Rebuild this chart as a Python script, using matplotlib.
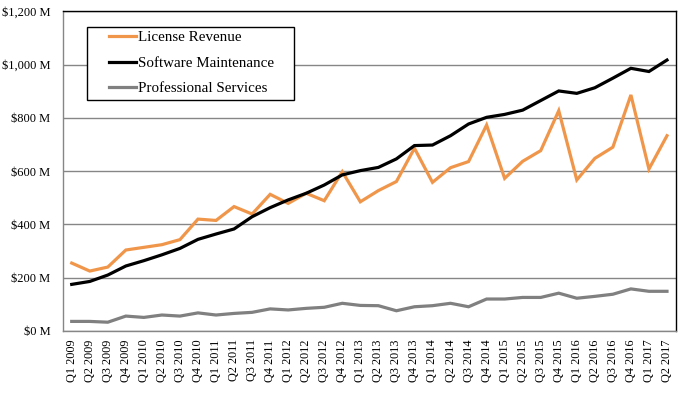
import matplotlib
matplotlib.use("Agg")
import matplotlib.pyplot as plt
from matplotlib.patches import Rectangle
import numpy as np

quarters = [f"Q{q} {y}" for y in range(2009, 2018) for q in range(1, 5)][:34]

license_revenue = [255, 225, 240, 304, 314, 324, 343, 420, 415, 467, 439, 513,
                   479, 517, 489, 598, 485, 527, 561, 686, 558, 613, 636, 773,
                   573, 637, 677, 827, 567, 648, 690, 886, 608, 733]
software_maintenance = [175, 186, 210, 244, 264, 286, 310, 344, 364, 383, 429, 463,
                        492, 517, 548, 586, 602, 614, 646, 696, 698, 733, 777, 802,
                        813, 829, 865, 901, 892, 913, 949, 986, 974, 1017]
professional_services = [36, 36, 33, 56, 51, 60, 56, 68, 60, 66, 70, 83,
                         79, 85, 89, 104, 96, 95, 76, 91, 95, 104, 91, 120,
                         120, 126, 126, 142, 123, 130, 138, 158, 149, 149]

series_names = ["License Revenue", "Software Maintenance", "Professional Services"]
colors = ["#F0964B", "#000000", "#808080"]

plt.rcParams['font.family'] = ['Liberation Serif', 'DejaVu Serif']

fig = plt.figure(figsize=(6.85, 3.93), dpi=100)
ax = fig.add_axes([62.7/685, 1-331/393, (676-62.7)/685, (331-11.3)/393])

x = np.arange(len(quarters))
lines = []
for vals, name, c in zip([license_revenue, software_maintenance, professional_services], series_names, colors):
    l, = ax.plot(x, vals, color=c, lw=2.3, label=name, solid_joinstyle='miter', zorder=3)
    lines.append(l)

ax.set_xlim(-0.5, len(quarters) - 0.5)
ax.set_ylim(0, 1200)
yt = [0, 200, 400, 600, 800, 1000, 1200]
ax.set_yticks(yt)
ax.set_yticklabels([f"${v:,} M" for v in yt], fontsize=9)
ax.set_xticks(x)
ax.set_xticklabels(quarters, rotation=90, fontsize=8.8)
ax.tick_params(axis='both', length=0)
ax.tick_params(axis='y', pad=9)
ax.tick_params(axis='x', pad=6)

ax.grid(axis='y', color='#868686', lw=1)
ax.set_axisbelow(True)
for s in ['top', 'right']:
    ax.spines[s].set_color('black')
    ax.spines[s].set_linewidth(1)
for s in ['left', 'bottom']:
    ax.spines[s].set_color('#868686')
    ax.spines[s].set_linewidth(1)

# legend box
ax.add_patch(Rectangle((0.0401, 0.7226), 0.3776 - 0.0401, 0.950 - 0.7226,
                       transform=ax.transAxes, facecolor='white', edgecolor='black',
                       lw=1, zorder=4))
leg = ax.legend(handles=lines, loc='center left', bbox_to_anchor=(0.0756, 0.838),
                frameon=False, fontsize=10.8, borderpad=0, borderaxespad=0,
                handlelength=1.8, handletextpad=0.1, labelspacing=0.8)
leg.set_zorder(5)

fig.savefig("out.png", dpi=100)
